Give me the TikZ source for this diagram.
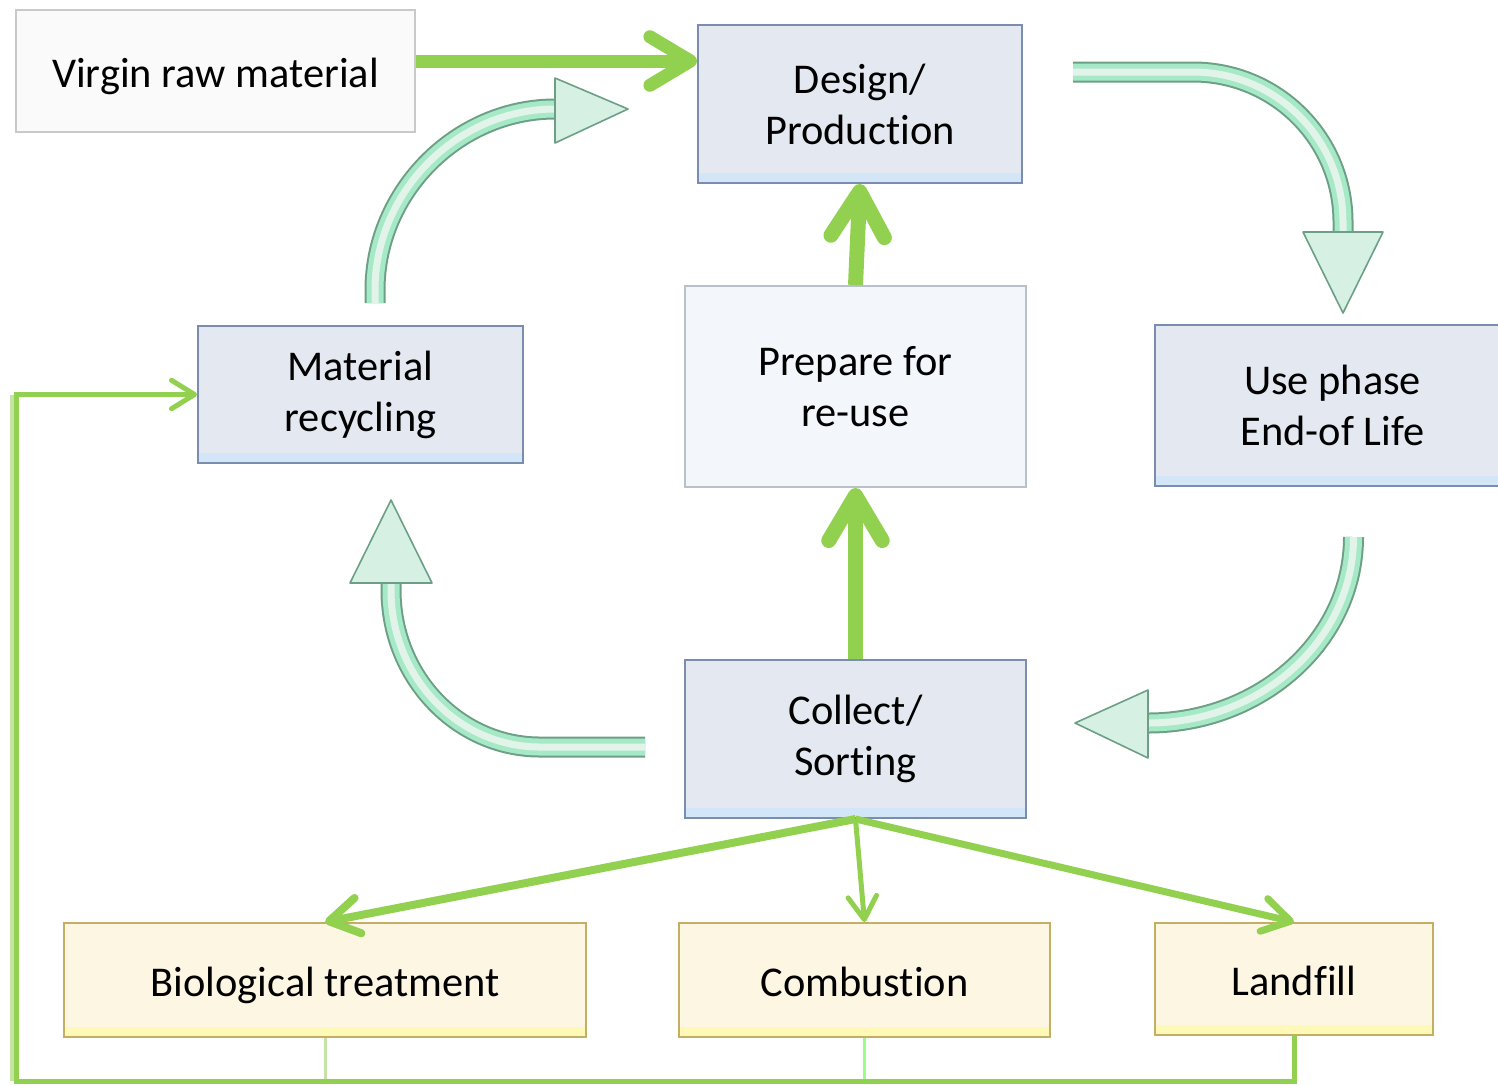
\documentclass[tikz,border=0pt]{standalone}
\usepackage{fontspec}
\setmainfont{Carlito}[Ligatures=NoCommon]
\usetikzlibrary{arrows.meta}
\definecolor{flowgreen}{HTML}{92D050}
\definecolor{boxblue}{HTML}{E4E9F1}
\definecolor{edgeblue}{HTML}{7B8DAE}
\definecolor{glowblue}{HTML}{D2E6F8}
\definecolor{boxpale}{HTML}{F3F6FB}
\definecolor{edgepale}{HTML}{B9C0CA}
\definecolor{boxgrey}{HTML}{FAFAFA}
\definecolor{edgegrey}{HTML}{C9C9C9}
\definecolor{boxtan}{HTML}{FDF6E3}
\definecolor{edgetan}{HTML}{C4AE63}
\definecolor{glowtan}{HTML}{FFF9B8}
\definecolor{arrowedge}{HTML}{6C9F86}
\definecolor{arrowmint}{HTML}{A6E9C6}
\definecolor{arrowpale}{HTML}{E2F4EA}
\definecolor{headmint}{HTML}{D6F1E3}
\definecolor{biothin}{HTML}{C5E3A5}
\definecolor{combthin}{HTML}{99FF88}
\begin{document}
\begin{tikzpicture}[x=0.5pt,y=-0.5pt,
  box/.style={line width=1pt,inner sep=0pt,align=center,
    font=\fontsize{21.2}{25.5}\selectfont},
  oneline/.style={text height=19pt,text depth=3pt},
  bluebox/.style={box,fill=boxblue,draw=edgeblue,
    path picture={\fill[glowblue] (path picture bounding box.south west)
      rectangle ([yshift=5pt]path picture bounding box.south east);}},
  tanbox/.style={box,oneline,fill=boxtan,draw=edgetan,
    path picture={\fill[glowtan] (path picture bounding box.south west)
      rectangle ([yshift=5pt]path picture bounding box.south east);}},
  palebox/.style={box,fill=boxpale,draw=edgepale},
  greybox/.style={box,oneline,fill=boxgrey,draw=edgegrey},
  flow/.style={draw=flowgreen,line width=#1,
    -{Straight Barb[length=6pt 2.2,width=8pt 2.5,round]}},
  blockarrow/.style={draw=arrowedge,line width=10.5pt,
    postaction={draw=arrowmint,line width=8.5pt},
    postaction={draw=arrowpale,line width=3.5pt}},
  arrowtri/.style={fill=headmint,draw=arrowedge,line width=0.8pt,line join=round}]
\useasboundingbox (0,0) rectangle (1498,1084);

\node[greybox,minimum width=199.5pt,minimum height=61pt] (virgin) at (215.5,71) {Virgin raw material};
\node[bluebox,minimum width=162pt,minimum height=79pt] (design) at (860,104) {Design/\\Production};
\node[bluebox,minimum width=162.5pt,minimum height=68.5pt] (matrec) at (360.5,394.5) {Material\\recycling};
\node[palebox,minimum width=170.5pt,minimum height=100.5pt] (prepare) at (855.5,386.5) {Prepare for\\re-use};
\node[bluebox,minimum width=177.5pt,minimum height=80.5pt] (usephase) at (1332.5,405.5) {Use phase\\End-of Life};
\node[bluebox,minimum width=170.5pt,minimum height=79pt] (collect) at (855.5,739) {Collect/\\Sorting};
\node[tanbox,minimum width=261pt,minimum height=57pt] (bio) at (325,980) {Biological treatment};
\node[tanbox,minimum width=185.5pt,minimum height=57pt] (comb) at (864.5,980) {Combustion};
\node[tanbox,minimum width=139pt,minimum height=56pt] (landfill) at (1294,979) {Landfill};

\coordinate (base) at (16,1081);
\coordinate (rs) at (375,303);
\coordinate (re) at (555,109);
\coordinate (ds) at (1073,72);
\coordinate (de) at (1343,232);
\coordinate (us) at (1353.5,537);
\coordinate (ue) at (1148,723);
\coordinate (cs) at (645,747);
\coordinate (ce) at (391,583);

\draw[flow=6.5pt] ([yshift=5pt]virgin.east) -- ([yshift=5pt]virgin.east -| design.west);
\draw[flow=7.5pt] (prepare.north) -- (design.south);
\draw[flow=7.5pt] (collect.north) -- (prepare.south);
\draw[flow=4pt] (collect.south) -- (bio.north);
\draw[flow=2.5pt] (collect.south) -- (comb.north);
\draw[flow=3.5pt] (collect.south) -- (landfill.north);

\draw[biothin,line width=1.5pt] (bio.south) -- (bio.south |- base);
\draw[combthin,line width=1.5pt] (comb.south) -- (comb.south |- base);
\draw[biothin,line width=2pt] ([xshift=-2pt]base) -- ([xshift=-2pt]base |- matrec.west);
\draw[flow=2.5pt] (landfill.south) -- (landfill.south |- base) -- (base) |- (matrec.west);

\draw[blockarrow] (rs) -- (375,290) .. controls (375,192) and (457,109) .. (re);
\draw[arrowtri] (555,78) -- (628,109) -- (555,143) -- cycle;
\draw[blockarrow] (ds) -- (1193,72) .. controls (1276,72) and (1343,139) .. (1343,222) -- (de);
\draw[arrowtri] (1303,232) -- (1343,313) -- (1383,232) -- cycle;
\draw[blockarrow] (us) .. controls (1353.5,640) and (1261,723) .. (ue);
\draw[arrowtri] (1148,690) -- (1075,723) -- (1148,758) -- cycle;
\draw[blockarrow] (cs) -- (540,747) .. controls (458,747) and (391,677) .. (391,590) -- (ce);
\draw[arrowtri] (350,583) -- (391,500) -- (432,583) -- cycle;
\end{tikzpicture}
\end{document}
